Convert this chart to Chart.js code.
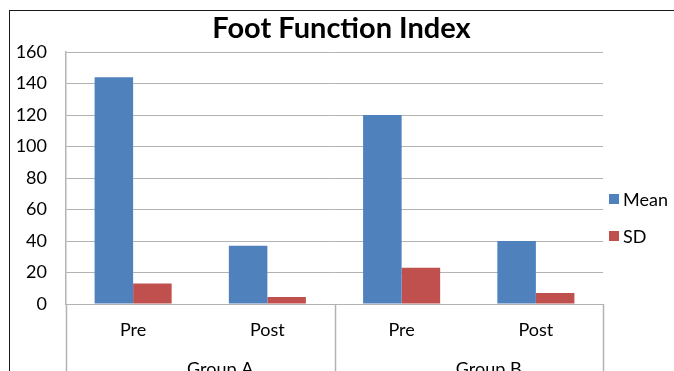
<!DOCTYPE html>
<html>
<head>
<meta charset="utf-8">
<script src="https://cdn.jsdelivr.net/npm/chart.js@4.4.1/dist/chart.umd.min.js"></script>
<style>
  html, body { margin: 0; padding: 0; background: #fff; overflow: hidden; }
  #frame { position: absolute; left: 9px; top: 10px; width: 720px; height: 420px; border: 1px solid #1a1a1a; }
  #chart { position: absolute; left: 0; top: 0; }
</style>
</head>
<body>
<div id="frame"></div>
<canvas id="chart" width="674" height="400"></canvas>
<script>
// Foot Function Index scores, grouped by study group and time point
const categories = ['Pre', 'Post', 'Pre', 'Post'];
const groups = ['Group A', 'Group B'];
const meanValues = [144, 37, 120, 40];
const sdValues = [13, 4.5, 23, 7];
const yTicks = [0, 20, 40, 60, 80, 100, 120, 140, 160];

const FONT = 'Lato, "Noto Sans", sans-serif';
const GRID = '#b3b3b3';
const GROUP_CAPTION_SHIFT = 20;

// Group captions, separators between groups, and the legend at the right
const decorations = {
  id: 'decorations',
  afterDraw(chart) {
    const ctx = chart.ctx;
    const x = chart.scales.x;
    const area = chart.chartArea;
    const n = categories.length;
    const perGroup = n / groups.length;
    const step = (x.getPixelForValue(1) - x.getPixelForValue(0));
    const edge = i => x.getPixelForValue(i) - step / 2;

    ctx.save();
    ctx.strokeStyle = GRID;
    ctx.lineWidth = 1.5;
    for (let g = 0; g <= groups.length; g++) {
      const px = Math.round(edge(g * perGroup)) + 0.5;
      ctx.beginPath();
      ctx.moveTo(px, area.bottom);
      ctx.lineTo(px, chart.height);
      ctx.stroke();
    }

    ctx.fillStyle = '#000';
    ctx.font = '18px ' + FONT;
    ctx.textAlign = 'center';
    ctx.textBaseline = 'alphabetic';
    groups.forEach((name, g) => {
      const cx = (edge(g * perGroup) + edge((g + 1) * perGroup)) / 2 + GROUP_CAPTION_SHIFT;
      ctx.fillText(name, cx, 375);
    });

    // legend
    ctx.textAlign = 'left';
    ctx.textBaseline = 'middle';
    const legendX = area.right + 6;
    const rows = [199, 236];
    chart.data.datasets.forEach((ds, i) => {
      ctx.fillStyle = ds.backgroundColor;
      ctx.fillRect(legendX, rows[i] - 5, 10, 10);
      ctx.fillStyle = '#000';
      ctx.fillText(ds.label, legendX + 14, rows[i] + 1);
    });
    ctx.restore();
  }
};

new Chart(document.getElementById('chart'), {
  type: 'bar',
  data: {
    labels: categories,
    datasets: [
      { label: 'Mean', data: meanValues, backgroundColor: '#4F81BD' },
      { label: 'SD', data: sdValues, backgroundColor: '#C0504D' }
    ]
  },
  options: {
    responsive: false,
    animation: false,
    events: [],
    layout: { padding: { left: 9, right: 0, top: 0, bottom: 0 } },
    datasets: { bar: { barPercentage: 1, categoryPercentage: 0.574 } },
    plugins: {
      legend: { display: false },
      tooltip: { enabled: false },
      title: {
        display: true,
        text: 'Foot Function Index',
        color: '#000',
        font: { family: FONT, size: 29, weight: 'bold', lineHeight: 1.2 },
        padding: { top: 11, bottom: 6.2 }
      }
    },
    scales: {
      x: {
        grid: { display: false, drawTicks: false },
        border: { display: true, color: GRID },
        ticks: { color: '#000', font: { family: FONT, size: 18 }, padding: 15 },
        afterFit(scale) { scale.height = 96; }
      },
      y: {
        min: 0,
        max: 160,
        afterBuildTicks(scale) { scale.ticks = yTicks.map(v => ({ value: v })); },
        grid: { color: GRID, lineWidth: 1, drawTicks: false },
        border: { display: true, color: GRID, width: 1.5 },
        ticks: { color: '#000', font: { family: FONT, size: 18 }, padding: 19 },
        afterFit(scale) { scale.width = 57; }
      },
      // empty right-hand band reserved for the legend
      legendSpace: {
        type: 'linear',
        position: 'right',
        grid: { display: false, drawTicks: false },
        border: { display: false },
        ticks: { display: false },
        afterFit(scale) { scale.width = 71; }
      }
    }
  },
  plugins: [decorations]
});
</script>
</body>
</html>
